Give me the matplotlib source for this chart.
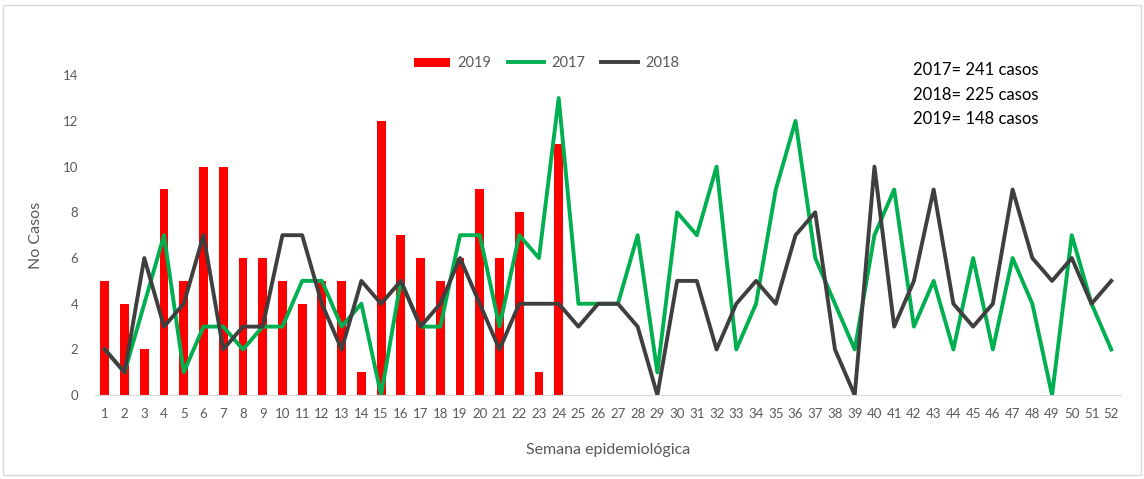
import numpy as np
import matplotlib
matplotlib.use("Agg")
import matplotlib.pyplot as plt
from matplotlib.patches import Rectangle

plt.rcParams['font.family'] = ['Lato', 'DejaVu Sans']

semanas = list(range(1, 53))

# casos por semana epidemiológica
casos_2019 = [5, 4, 2, 9, 5, 10, 10, 6, 6, 5, 4, 5, 5, 1, 12, 7, 6, 5, 6, 9, 6, 8, 1, 11]
casos_2017 = [2, 1, 4, 7, 1, 3, 3, 2, 3, 3, 5, 5, 3, 4, 0, 5, 3, 3, 7, 7, 3, 7, 6, 13, 4, 4,
              4, 7, 1, 8, 7, 10, 2, 4, 9, 12, 6, 4, 2, 7, 9, 3, 5, 2, 6, 2, 6, 4, 0, 7, 4, 2]
casos_2018 = [2, 1, 6, 3, 4, 7, 2, 3, 3, 7, 7, 4, 2, 5, 4, 5, 3, 4, 6, 4, 2, 4, 4, 4, 3, 4,
              4, 3, 0, 5, 5, 2, 4, 5, 4, 7, 8, 2, 0, 10, 3, 5, 9, 4, 3, 4, 9, 6, 5, 6, 4, 5]

totales = ["2017= 241 casos", "2018= 225 casos", "2019= 148 casos"]

fig = plt.figure(figsize=(11.44, 4.79), dpi=100)
ax = fig.add_axes([0.083, 0.175, 0.897, 0.668])

b = ax.bar(semanas[:len(casos_2019)], casos_2019, width=0.45, color='#FF0000', label='2019', zorder=2)
l17, = ax.plot(semanas, casos_2017, color='#00B050', lw=2.8, label='2017', zorder=3)
l18, = ax.plot(semanas, casos_2018, color='#3F3F3F', lw=2.8, label='2018', zorder=4)

ax.set_xlim(0.5, 52.5)
ax.set_ylim(0, 14)
ax.set_yticks(range(0, 15, 2))
ax.set_xticks(semanas)
ax.tick_params(axis='both', length=0, labelsize=9.5, colors='#595959')
ax.tick_params(axis='x', pad=9)
ax.tick_params(axis='y', pad=12)

for s in ['top', 'right', 'left']:
    ax.spines[s].set_visible(False)
ax.spines['bottom'].set_color('#D9D9D9')

ax.set_xlabel('Semana epidemiológica', fontsize=11.5, color='#595959', labelpad=17)
ax.set_ylabel('No Casos', fontsize=11.5, color='#595959', labelpad=14)

ax.legend([b, l17, l18], ['2019', '2017', '2018'], loc='upper center',
          bbox_to_anchor=(0.44, 1.1), ncol=3, frameon=False, fontsize=10.5,
          labelcolor='#595959', handlelength=2.5, handleheight=0.6,
          handletextpad=0.5, columnspacing=1.1)

for i, t in enumerate(totales):
    fig.text(0.798, 0.853 - i * 0.051, t, fontsize=12, color='black', va='center')

fig.patches.append(Rectangle((0.003, 0.008), 0.994, 0.982, transform=fig.transFigure,
                             fill=False, edgecolor='#D9D9D9', lw=1))

fig.savefig('out.png', dpi=100)
